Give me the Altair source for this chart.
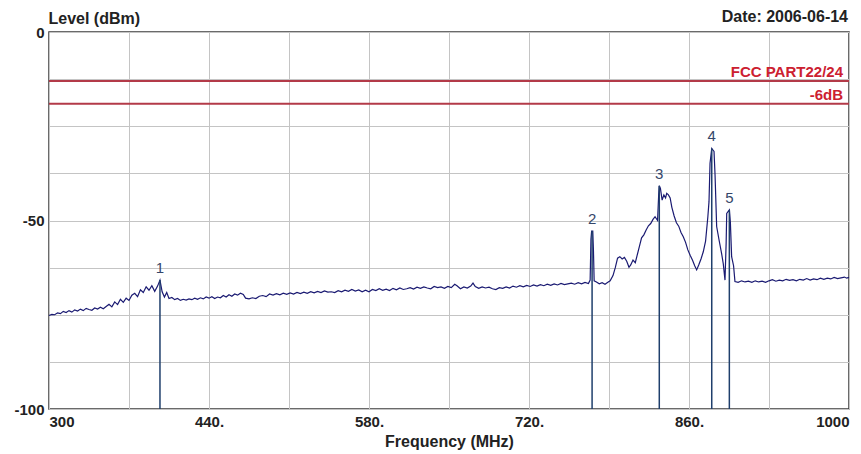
import altair as alt
import pandas as pd

# ---------------- data ----------------
freq_mhz = [
    300.0, 302.5, 305.0, 307.5, 310.0, 312.5, 315.0, 317.5, 320.0, 322.5,
    325.0, 327.5, 330.0, 332.5, 335.0, 337.5, 340.0, 342.5, 345.0, 347.5,
    350.0, 352.5, 355.0, 357.5, 360.0, 362.5, 365.0, 367.5, 370.0, 372.5,
    375.0, 377.5, 380.0, 382.5, 385.0, 387.5, 390.0, 392.5, 395.0, 397.1,
    399.0, 401.0, 403.0, 405.0, 407.5, 410.0, 412.5, 415.0, 417.5, 420.0,
    422.5, 425.0, 427.5, 430.0, 432.5, 435.0, 437.5, 440.0, 442.5, 445.0,
    447.5, 450.0, 452.5, 455.0, 457.5, 460.0, 462.5, 465.0, 467.5, 470.0,
    472.0, 475.0, 478.0, 481.0, 484.0, 487.0, 490.0, 493.0, 496.0, 499.0,
    502.0, 505.0, 508.0, 511.0, 514.0, 517.0, 520.0, 523.0, 526.0, 529.0,
    532.0, 535.0, 538.0, 541.0, 544.0, 547.0, 550.0, 553.0, 556.0, 559.0,
    562.0, 565.0, 568.0, 571.0, 574.0, 577.0, 580.0, 583.0, 586.0, 589.0,
    592.0, 595.0, 598.0, 601.0, 604.0, 607.0, 610.0, 613.0, 616.0, 619.0,
    622.0, 625.0, 628.0, 631.0, 634.0, 637.0, 640.0, 643.0, 646.0, 649.0,
    652.0, 655.0, 657.0, 660.0, 663.0, 666.0, 669.0, 671.0, 673.0, 676.0,
    679.0, 682.0, 685.0, 688.0, 691.0, 694.0, 697.0, 700.0, 703.0, 706.0,
    709.0, 712.0, 715.0, 718.0, 721.0, 724.0, 727.0, 730.0, 733.0, 736.0,
    739.0, 742.0, 745.0, 748.0, 751.0, 754.0, 757.0, 760.0, 763.0, 766.0,
    769.0, 772.0, 773.5, 774.2, 774.8, 775.8, 776.4, 777.0, 779.0, 781.5,
    784.0, 786.5, 789.0, 791.0, 793.5, 795.5, 797.5, 799.5, 801.5, 803.5,
    805.5, 807.5, 809.0, 811.0, 813.0, 814.5, 816.5, 818.5, 820.5, 822.5,
    824.5, 826.5, 828.5, 830.3, 832.5, 833.5, 834.0, 835.0, 836.5, 838.0,
    839.5, 840.5, 842.0, 843.5, 845.0, 847.0, 849.0, 851.0, 853.0, 855.0,
    857.0, 859.0, 861.0, 863.0, 865.0, 866.7, 868.5, 870.5, 872.5, 874.5,
    876.5, 877.5, 878.4, 879.9, 881.9, 882.8, 884.2, 886.5, 888.5, 890.0,
    891.5, 892.5, 893.0, 895.3, 896.2, 897.3, 899.0, 900.2, 903.0, 906.0,
    909.0, 912.0, 915.0, 918.0, 921.0, 924.0, 927.0, 930.0, 933.0, 936.0,
    939.0, 942.0, 945.0, 948.0, 951.0, 954.0, 957.0, 960.0, 963.0, 966.0,
    969.0, 972.0, 975.0, 978.0, 981.0, 984.0, 987.0, 990.0, 993.0, 996.0,
    998.0, 1000.0,
]
level_dbm = [
    -75.2, -74.9, -75.0, -74.5, -74.7, -74.1, -74.4, -73.9, -74.3, -73.7,
    -74.0, -73.5, -73.9, -73.3, -73.6, -73.8, -73.2, -73.5, -73.0, -73.4,
    -72.8, -72.2, -72.9, -71.6, -72.3, -70.9, -71.7, -70.6, -71.2, -69.8,
    -69.3, -70.2, -68.4, -69.1, -67.6, -68.5, -67.3, -68.8, -67.4, -65.8,
    -68.9, -70.3, -69.1, -70.7, -70.4, -71.0, -70.7, -71.2, -70.9, -71.1,
    -70.8, -71.0, -70.6, -70.9, -70.5, -70.8, -70.3, -70.6, -70.2, -70.7,
    -70.3, -70.5, -69.9, -70.3, -69.7, -70.1, -69.5, -69.8, -69.3, -69.6,
    -70.6, -70.8, -70.5, -70.7, -70.1, -69.9, -70.2, -69.5, -69.8, -69.4,
    -69.7, -69.3, -69.6, -69.2, -69.5, -69.1, -69.4, -69.0, -69.3, -68.9,
    -69.2, -68.8, -69.1, -68.7, -69.0, -68.9, -69.1, -68.6, -68.9, -68.5,
    -68.8, -68.3, -68.7, -68.4, -68.9, -68.5, -68.9, -68.3, -68.6, -68.1,
    -68.5, -68.2, -68.6, -68.0, -68.4, -67.9, -68.3, -68.1, -67.8, -68.2,
    -67.7, -68.0, -67.6, -67.9, -68.1, -67.5, -67.8, -67.6, -68.0, -67.5,
    -67.8, -66.9, -67.3, -68.1, -67.6, -67.9, -67.4, -66.6, -67.5, -68.0,
    -67.6, -67.9, -67.7, -68.1, -68.3, -67.8, -68.0, -67.6, -67.9, -67.4,
    -67.7, -67.3, -67.6, -67.2, -67.5, -67.1, -67.4, -67.0, -67.3, -66.9,
    -67.2, -66.8, -67.1, -66.7, -67.0, -66.8, -66.6, -66.9, -66.5, -66.8,
    -66.4, -66.7, -65.8, -55.0, -52.8, -52.8, -58.0, -66.0, -66.3, -66.8,
    -66.5, -66.9, -66.4, -66.0, -64.6, -62.5, -60.0, -59.6, -60.2, -59.8,
    -60.8, -62.4, -61.8, -60.5, -61.2, -59.4, -57.0, -54.6, -53.8, -52.5,
    -51.4, -50.8, -49.7, -49.0, -50.0, -43.0, -40.8, -41.5, -44.6, -43.2,
    -44.0, -42.8, -43.2, -44.0, -46.5, -48.8, -50.6, -51.5, -53.2, -54.3,
    -55.8, -57.8, -59.2, -60.5, -62.0, -63.1, -61.8, -60.2, -58.3, -55.5,
    -49.0, -45.0, -34.8, -30.9, -31.7, -38.0, -51.6, -55.5, -58.7, -61.5,
    -65.8, -56.0, -48.1, -47.2, -50.5, -59.6, -62.0, -66.2, -66.4, -66.0,
    -66.3, -66.1, -66.4, -66.0, -66.3, -66.1, -66.4, -66.0, -65.7, -66.1,
    -65.8, -66.0, -65.6, -65.9, -65.7, -66.0, -65.6, -65.8, -65.4, -65.8,
    -65.5, -65.7, -65.3, -65.6, -65.3, -65.5, -65.1, -65.4, -65.2, -65.0,
    -65.3, -65.1,
]

marker_ids = ["1", "2", "3", "4", "5"]
marker_freq = [397.1, 775.2, 834.0, 879.9, 895.3]
marker_level = [-65.8, -52.8, -40.8, -30.9, -47.2]

limit_names = ["FCC PART22/24", "-6dB"]
limit_levels = [-13.0, -19.0]

x_ticks = [300, 370, 440, 510, 580, 650, 720, 790, 860, 930, 1000]
y_ticks = [0, -12.5, -25, -37.5, -50, -62.5, -75, -87.5, -100]

date_text = ["Date: 2006-06-14"]

# ---------------- tables ----------------
trace = pd.DataFrame({"freq": freq_mhz, "level": level_dbm,
                      "idx": list(range(len(freq_mhz)))})
markers = pd.DataFrame({"id": marker_ids, "freq": marker_freq,
                        "level": marker_level,
                        "floor": [-100.0] * len(marker_ids)})
limits = pd.DataFrame({"name": limit_names, "level": limit_levels})
date_df = pd.DataFrame({"t": date_text})

FONT = "Liberation Sans"
xscale = alt.Scale(domain=[300, 1000], nice=False, zero=False)
yscale = alt.Scale(domain=[-100, 0], nice=False, zero=False)

x_axis = alt.Axis(
    values=x_ticks, grid=True, gridColor="#c4c4c4", gridWidth=1,
    ticks=False, domain=False, labelOverlap=False, labelFlush=True,
    labelExpr="datum.value == 300 || datum.value == 1000 ? '' + datum.value : "
              "((datum.value - 300) % 140 == 0 ? datum.value + '.' : '')",
    labelFont=FONT, labelFontSize=15, labelFontWeight="bold",
    labelColor="#222222", labelPadding=5,
    title="Frequency (MHz)", titleFont=FONT, titleFontSize=16,
    titleFontWeight="bold", titleColor="#222222",
    titleY=32, titleBaseline="middle",
)
y_axis = alt.Axis(
    values=y_ticks, grid=True, gridColor="#c4c4c4", gridWidth=1,
    ticks=False, domain=False, labelOverlap=False,
    labelExpr="datum.value % 50 == 0 ? '' + datum.value : ''",
    labelFont=FONT, labelFontSize=15, labelFontWeight="bold",
    labelColor="#222222", labelPadding=5,
    title="Level (dBm)", titleFont=FONT, titleFontSize=16,
    titleFontWeight="bold", titleColor="#222222",
    titleAngle=0, titleAlign="left", titleBaseline="middle",
    titleX=-1, titleY=-14,
)

X = lambda f: alt.X(f, scale=xscale, axis=x_axis)
Y = lambda f: alt.Y(f, scale=yscale, axis=y_axis)

line = alt.Chart(trace).mark_line(color="#1a1a72", strokeWidth=1.2).encode(
    x=X("freq:Q"), y=Y("level:Q"), order="idx:Q",
)

limit_rules = alt.Chart(limits).mark_rule(color="#b33a48", strokeWidth=2).encode(
    y=Y("level:Q"),
)
limit_text = alt.Chart(limits).mark_text(
    align="right", baseline="alphabetic", dy=-4, font=FONT, fontSize=15,
    fontWeight="bold", color="#cc2030",
).encode(
    x=alt.value(794), y=Y("level:Q"), text="name:N",
)

marker_rules = alt.Chart(markers).mark_rule(color="#1f3f6c", strokeWidth=1.5).encode(
    x=X("freq:Q"), y=Y("level:Q"), y2="floor:Q",
)
marker_text = alt.Chart(markers).mark_text(
    baseline="middle", dy=-12, font=FONT, fontSize=15, color="#34466a",
).encode(
    x=X("freq:Q"), y=Y("level:Q"), text="id:N",
)

date_mark = alt.Chart(date_df).mark_text(
    align="right", baseline="middle", font=FONT, fontSize=16,
    fontWeight="bold", color="#222222",
).encode(x=alt.value(799), y=alt.value(-15), text="t:N")

chart = alt.layer(
    line, limit_rules, limit_text, marker_rules, marker_text, date_mark
).properties(
    width=800, height=377,
    autosize=alt.AutoSizeParams(type="none"),
    padding={"left": 41, "top": 24, "right": 4, "bottom": 45},
    background="white",
).configure_view(stroke="#3a3a3a", strokeWidth=1.5)

chart.save("out.html", embed_options={"renderer": "svg", "actions": False})
